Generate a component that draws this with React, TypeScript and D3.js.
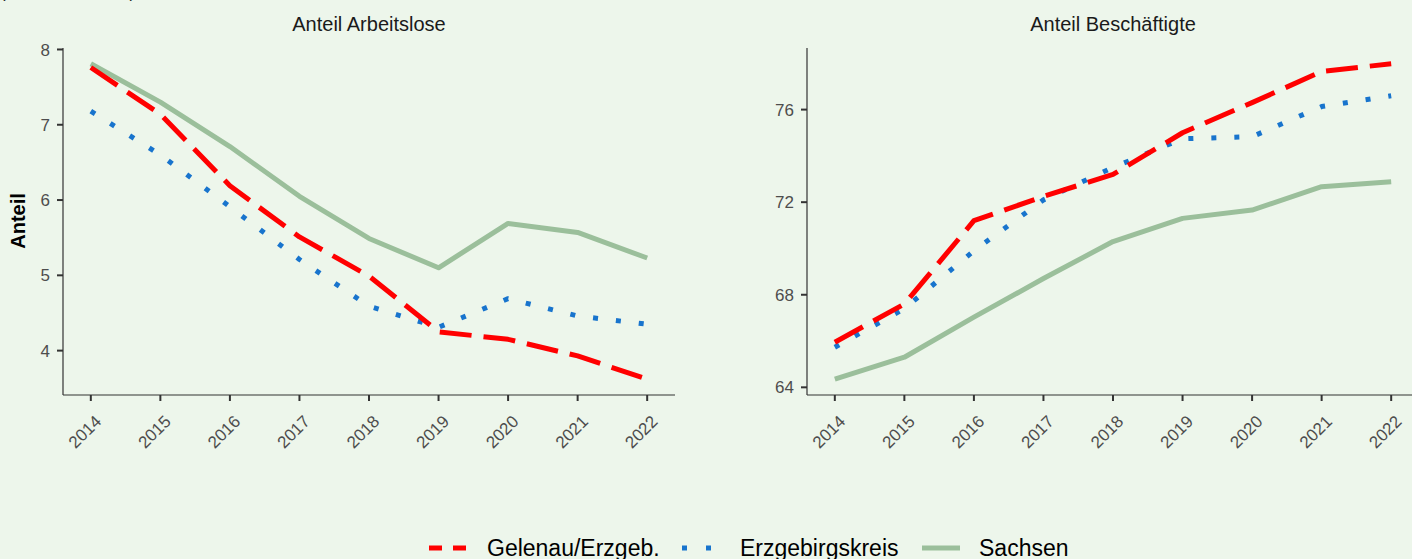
import React from "react";
import * as d3 from "d3";

// values
const years = [2014, 2015, 2016, 2017, 2018, 2019, 2020, 2021, 2022];
const seriesNames = ["Gelenau/Erzgeb.", "Erzgebirgskreis", "Sachsen"];
const arbeitslosGelenau = [7.76, 7.14, 6.19, 5.51, 4.99, 4.25, 4.15, 3.93, 3.62];
const arbeitslosKreis = [7.18, 6.6, 5.91, 5.21, 4.59, 4.31, 4.69, 4.46, 4.35];
const arbeitslosSachsen = [7.81, 7.3, 6.71, 6.05, 5.49, 5.1, 5.69, 5.57, 5.23];
const beschGelenau = [65.95, 67.6, 71.2, 72.25, 73.2, 75.0, 76.3, 77.65, 77.98];
const beschKreis = [65.73, 67.4, 69.9, 72.1, 73.5, 74.74, 74.83, 76.13, 76.6];
const beschSachsen = [64.35, 65.3, 67.03, 68.7, 70.3, 71.3, 71.66, 72.67, 72.88];
const ticksArbeitslos = [4, 5, 6, 7, 8];
const ticksBesch = [64, 68, 72, 76];

const W = 1412;
const H = 559;
const BG = "#edf6eb";
const FONT = "'Liberation Sans', Arial, sans-serif";
const styles = [
  { color: "#ff0000", dash: "32 12", legendDash: "13 11" },
  { color: "#1874cd", dash: "5 18", legendDash: "5 19" },
  { color: "#9bbf9b", dash: null, legendDash: null },
];

const panelTop = 48;
const panelBottom = 395;
const panelW = 612;

function expand(vals: number[]) {
  const [lo, hi] = d3.extent(vals) as [number, number];
  const pad = (hi - lo) * 0.05;
  return [lo - pad, hi + pad];
}

function Panel({ left, title, series, ticks }: { left: number; title: string; series: number[][]; ticks: number[] }) {
  const x = d3.scaleLinear()
    .domain([years[0] - 0.4, years[years.length - 1] + 0.4])
    .range([left, left + panelW]);
  const y = d3.scaleLinear()
    .domain(expand(series.flat()))
    .range([panelBottom, panelTop]);
  const line = d3.line<number>()
    .x((d, i) => x(years[i]))
    .y(d => y(d));
  return (
    <g>
      <text x={left + panelW / 2} y={31} textAnchor="middle" fontSize={20} fill="#1a1a1a">{title}</text>
      {series.map((s, i) => (
        <path key={i} d={line(s) || ""} fill="none" stroke={styles[i].color} strokeWidth={5}
          strokeDasharray={styles[i].dash || undefined} strokeLinecap="butt" strokeLinejoin="round" />
      )).reverse()}
      <line x1={left} x2={left} y1={panelTop} y2={panelBottom} stroke="#333" strokeWidth={1.2} />
      <line x1={left} x2={left + panelW} y1={panelBottom} y2={panelBottom} stroke="#333" strokeWidth={1.2} />
      {ticks.map(t => (
        <g key={t}>
          <line x1={left - 6} x2={left} y1={y(t)} y2={y(t)} stroke="#333" strokeWidth={2} />
          <text x={left - 13} y={y(t)} dy="0.36em" textAnchor="end" fontSize={17} fill="#4d4d4d">{t}</text>
        </g>
      ))}
      {years.map(yr => (
        <g key={yr}>
          <line x1={x(yr)} x2={x(yr)} y1={panelBottom} y2={panelBottom + 6} stroke="#333" strokeWidth={2} />
          <text transform={`translate(${x(yr) + 3},${panelBottom + 19}) rotate(-45)`} dy="0.71em"
            textAnchor="end" fontSize={17} fill="#4d4d4d">{yr}</text>
        </g>
      ))}
    </g>
  );
}

export default function App() {
  const legendKeys = [429, 682, 922];
  const legendText = [487, 740, 979];
  return (
    <svg width={W} height={H} style={{ position: "absolute", left: 0, top: 0 }} fontFamily={FONT}>
      <rect width={W} height={H} fill={BG} />
      <text x={0} y={-2} fontSize={17} fill="#1a1a1a">(Anteil in Prozent)</text>
      <text transform="translate(25,221) rotate(-90)" textAnchor="middle" fontSize={20} fontWeight="bold" fill="#000">Anteil</text>
      <Panel left={63} title="Anteil Arbeitslose"
        series={[arbeitslosGelenau, arbeitslosKreis, arbeitslosSachsen]} ticks={ticksArbeitslos} />
      <Panel left={807} title="Anteil Beschäftigte"
        series={[beschGelenau, beschKreis, beschSachsen]} ticks={ticksBesch} />
      {seriesNames.map((n, i) => (
        <g key={n}>
          <line x1={legendKeys[i]} x2={legendKeys[i] + 38} y1={548} y2={548} stroke={styles[i].color} strokeWidth={5}
            strokeDasharray={styles[i].legendDash || undefined} />
          <text x={legendText[i]} y={556} fontSize={23} fill="#000">{n}</text>
        </g>
      ))}
    </svg>
  );
}
